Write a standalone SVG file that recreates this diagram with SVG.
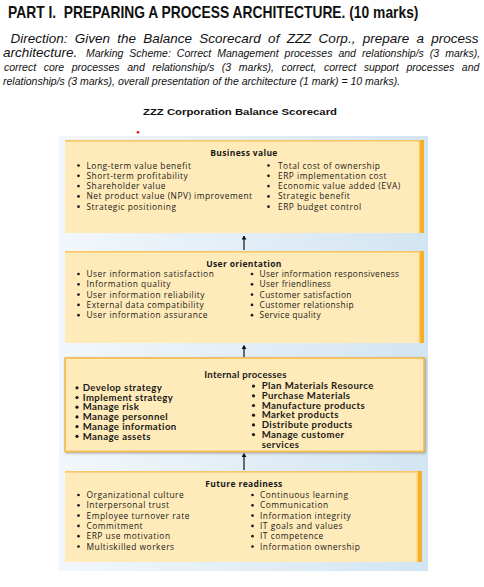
<svg xmlns="http://www.w3.org/2000/svg" width="484" height="587" viewBox="0 0 484 587">
<style>
.title{font-family:"Liberation Sans",Arial,sans-serif;font-weight:bold;font-size:16.5px;fill:#111}
.dir{font-family:"Liberation Sans",Arial,sans-serif;font-style:italic;font-size:13.5px;fill:#111}
.sm{font-family:"Liberation Sans",Arial,sans-serif;font-style:italic;font-size:10.5px;fill:#111}
.sub{font-family:"Liberation Sans",Arial,sans-serif;font-weight:bold;font-size:9.5px;fill:#111}
.bh{font-family:"Open Sans","Noto Sans",sans-serif;font-weight:bold;font-size:8.5px;letter-spacing:0.35px;fill:#1a1a1a;text-anchor:middle}
.bt{font-family:"Open Sans","Noto Sans",sans-serif;font-size:8.4px;letter-spacing:0.5px;fill:#1a1a1a}
.bt2{font-family:"Open Sans","Noto Sans",sans-serif;font-size:8.4px;letter-spacing:0.35px;fill:#1a1a1a}
.ih{font-family:Lato,"Open Sans",sans-serif;font-weight:bold;font-size:9.6px;letter-spacing:0.3px;fill:#1a1a1a;text-anchor:middle}
.it{font-family:Lato,"Open Sans",sans-serif;font-weight:bold;font-size:9.6px;letter-spacing:0.42px;fill:#1a1a1a}
.box{fill:#FFEBB9}
.topedge{fill:#F8C567}
.rightedge{fill:#F5B028}
.rightin{fill:#FBD37A}
.conn{stroke:#111;stroke-width:1.2;fill:none}
.dot{fill:#1a1a1a}
</style>
<defs>
<linearGradient id="panel" x1="0" y1="0" x2="1" y2="0">
<stop offset="0" stop-color="#F2F7FB"/>
<stop offset="1" stop-color="#D3E5F2"/>
</linearGradient>
<marker id="ah" viewBox="0 0 6 8" refX="5.5" refY="4" markerWidth="4" markerHeight="5" orient="auto" markerUnits="userSpaceOnUse">
<path d="M0,0 L6,4 L0,8 Z" fill="#111"/>
</marker>
<filter id="sh" x="-5%" y="-5%" width="110%" height="115%">
<feDropShadow dx="1" dy="1" stdDeviation="0.8" flood-color="#666" flood-opacity="0.6"/>
</filter>
<circle id="b" r="1.35"/>
<circle id="bb" r="1.6"/>
</defs>
<rect x="0" y="0" width="484" height="587" fill="#fff"/>
<g id="header">
<text class="title" transform="matrix(0.838 0 0 1 8 17.5)" x="0" y="0" xml:space="preserve">PART I.  PREPARING A PROCESS ARCHITECTURE. (10 marks)</text>
<text class="dir" x="10.5" y="42.5" word-spacing="3.5">Direction: Given the Balance Scorecard of ZZZ Corp., prepare a process</text>
<text class="dir" x="3" y="57">architecture.</text>
<text class="sm" x="86" y="57" word-spacing="3.1">Marking Scheme: Correct Management processes and relationship/s (3 marks),</text>
<text class="sm" x="4" y="71" word-spacing="4.7">correct core processes and relationship/s (3 marks), correct, correct support processes and</text>
<text class="sm" x="3" y="85">relationship/s (3 marks), overall presentation of the architecture (1 mark) = 10 marks).</text>
<text class="sub" x="143" y="115" textLength="194" lengthAdjust="spacingAndGlyphs">ZZZ Corporation Balance Scorecard</text>
<circle cx="138" cy="132.3" r="1.4" fill="#E0201B"/>
</g>
<rect id="panel-bg" x="59" y="136" width="369" height="435" fill="url(#panel)"/>
<g id="connectors">
<line class="conn" x1="244" y1="250" x2="244" y2="236" marker-end="url(#ah)"/>
<line class="conn" x1="244" y1="357" x2="244" y2="345.5" marker-end="url(#ah)"/>
<line class="conn" x1="244" y1="470" x2="244" y2="453.5" marker-end="url(#ah)"/>
</g>
<g id="business-value">
<rect class="box" x="65" y="140" width="359" height="93"/>
<rect class="topedge" x="65" y="140" width="359" height="1.6"/>
<rect class="rightedge" x="420" y="140" width="4" height="93"/>
<rect class="rightin" x="418.5" y="141" width="1.5" height="92"/>
<text class="bh" x="244" y="156">Business value</text>
<g class="dot">
<use href="#b" x="78.5" y="165.5"/><use href="#b" x="78.5" y="175.8"/><use href="#b" x="78.5" y="186.1"/><use href="#b" x="78.5" y="196.4"/><use href="#b" x="78.5" y="206.7"/>
<use href="#b" x="268.5" y="165.5"/><use href="#b" x="268.5" y="175.8"/><use href="#b" x="268.5" y="186.1"/><use href="#b" x="268.5" y="196.4"/><use href="#b" x="268.5" y="206.7"/>
</g>
<g class="bt">
<text x="86.5" y="168.5">Long-term value benefit</text>
<text x="86.5" y="178.8">Short-term profitability</text>
<text x="86.5" y="189.1">Shareholder value</text>
<text x="86.5" y="199.4">Net product value (NPV) improvement</text>
<text x="86.5" y="209.7">Strategic positioning</text>
<text x="278" y="168.5">Total cost of ownership</text>
<text x="278" y="178.8">ERP implementation cost</text>
<text x="278" y="189.1">Economic value added (EVA)</text>
<text x="278" y="199.4">Strategic benefit</text>
<text x="278" y="209.7">ERP budget control</text>
</g>
</g>
<g id="user-orientation">
<rect class="box" x="65" y="251" width="359" height="92"/>
<rect class="topedge" x="65" y="251" width="359" height="1.6"/>
<rect class="rightedge" x="420" y="251" width="4" height="92"/>
<rect class="rightin" x="418.5" y="252" width="1.5" height="91"/>
<text class="bh" x="244" y="266.5">User orientation</text>
<g class="dot">
<use href="#b" x="78.5" y="274"/><use href="#b" x="78.5" y="284.3"/><use href="#b" x="78.5" y="294.6"/><use href="#b" x="78.5" y="304.9"/><use href="#b" x="78.5" y="315.2"/>
<use href="#b" x="252" y="274"/><use href="#b" x="252" y="284.3"/><use href="#b" x="252" y="294.6"/><use href="#b" x="252" y="304.9"/><use href="#b" x="252" y="315.2"/>
</g>
<g class="bt">
<text x="86.5" y="277">User information satisfaction</text>
<text x="86.5" y="287.3">Information quality</text>
<text x="86.5" y="297.6">User information reliability</text>
<text x="86.5" y="307.9">External data compatibility</text>
<text x="86.5" y="318.2">User information assurance</text>
</g>
<g class="bt2">
<text x="259.5" y="277">User information responsiveness</text>
<text x="259.5" y="287.3">User friendliness</text>
<text x="259.5" y="297.6">Customer satisfaction</text>
<text x="259.5" y="307.9">Customer relationship</text>
<text x="259.5" y="318.2">Service quality</text>
</g>
</g>
<g id="internal-processes">
<rect x="65" y="358" width="359" height="93.5" fill="#FFEBB9" stroke="#F3B94A" stroke-width="1.6" filter="url(#sh)"/>
<text class="ih" x="245.5" y="378">Internal processes</text>
<g class="dot">
<use href="#bb" x="77" y="387.8"/><use href="#bb" x="77" y="397.5"/><use href="#bb" x="77" y="407.2"/><use href="#bb" x="77" y="416.9"/><use href="#bb" x="77" y="426.6"/><use href="#bb" x="77" y="436.3"/>
<use href="#bb" x="253.5" y="386.1"/><use href="#bb" x="253.5" y="395.8"/><use href="#bb" x="253.5" y="405.5"/><use href="#bb" x="253.5" y="415.2"/><use href="#bb" x="253.5" y="424.9"/><use href="#bb" x="253.5" y="434.6"/>
</g>
<g class="it">
<text x="82.7" y="391">Develop strategy</text>
<text x="82.7" y="400.7">Implement strategy</text>
<text x="82.7" y="410.4">Manage risk</text>
<text x="82.7" y="420.1">Manage personnel</text>
<text x="82.7" y="429.8">Manage information</text>
<text x="82.7" y="439.5">Manage assets</text>
<text x="261.7" y="389.3">Plan Materials Resource</text>
<text x="261.7" y="399">Purchase Materials</text>
<text x="261.7" y="408.7">Manufacture products</text>
<text x="261.7" y="418.4">Market products</text>
<text x="261.7" y="428.1">Distribute products</text>
<text x="261.7" y="437.8">Manage customer</text>
<text x="261.7" y="447.5">services</text>
</g>
</g>
<g id="future-readiness">
<rect class="box" x="65" y="471" width="357" height="91"/>
<rect class="topedge" x="65" y="471" width="357" height="1.6"/>
<rect class="rightedge" x="418" y="471" width="4" height="91"/>
<rect class="rightin" x="416.5" y="472" width="1.5" height="90"/>
<text class="bh" x="244" y="486.5">Future readiness</text>
<g class="dot">
<use href="#b" x="78.5" y="495"/><use href="#b" x="78.5" y="505.3"/><use href="#b" x="78.5" y="515.6"/><use href="#b" x="78.5" y="525.9"/><use href="#b" x="78.5" y="536.2"/><use href="#b" x="78.5" y="546.5"/>
<use href="#b" x="252.5" y="495"/><use href="#b" x="252.5" y="505.3"/><use href="#b" x="252.5" y="515.6"/><use href="#b" x="252.5" y="525.9"/><use href="#b" x="252.5" y="536.2"/><use href="#b" x="252.5" y="546.5"/>
</g>
<g class="bt">
<text x="86.5" y="498">Organizational culture</text>
<text x="86.5" y="508.3">Interpersonal trust</text>
<text x="86.5" y="518.6">Employee turnover rate</text>
<text x="86.5" y="528.9">Commitment</text>
<text x="86.5" y="539.2">ERP use motivation</text>
<text x="86.5" y="549.5">Multiskilled workers</text>
<text x="260" y="498">Continuous learning</text>
<text x="260" y="508.3">Communication</text>
<text x="260" y="518.6">Information integrity</text>
<text x="260" y="528.9">IT goals and values</text>
<text x="260" y="539.2">IT competence</text>
<text x="260" y="549.5">Information ownership</text>
</g>
</g>
</svg>
